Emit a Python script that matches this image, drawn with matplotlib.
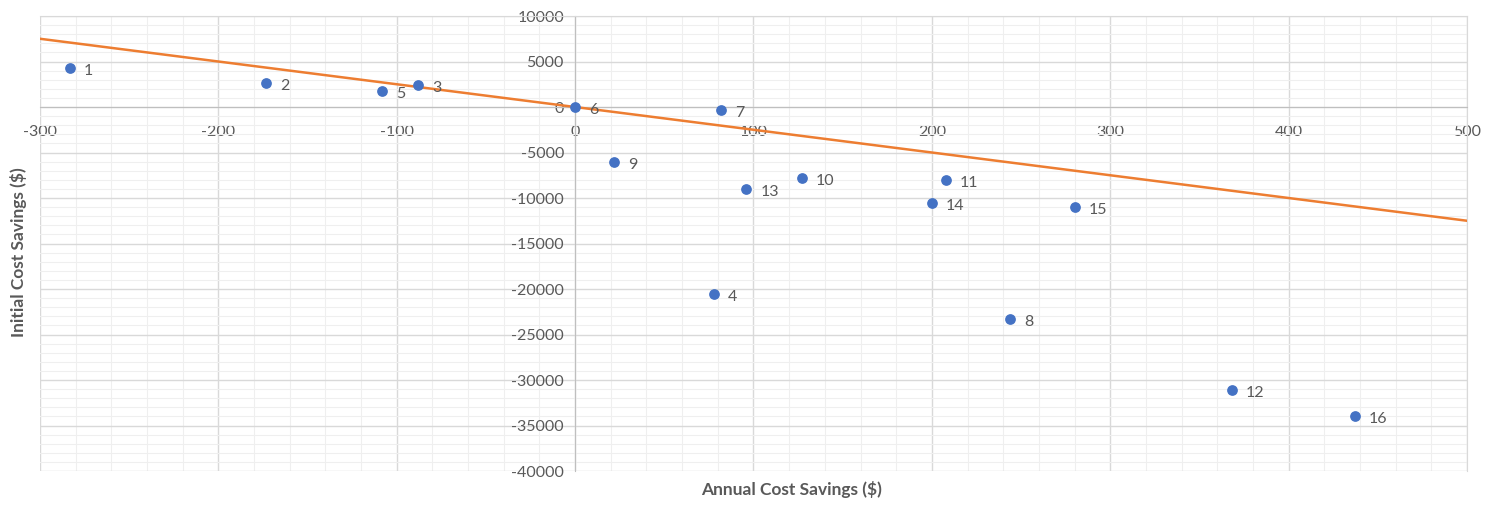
import matplotlib.pyplot as plt
from matplotlib.ticker import MultipleLocator

# data
ids = ["1", "2", "3", "4", "5", "6", "7", "8", "9", "10", "11", "12", "13", "14", "15", "16"]
annual = [-283, -173, -88, 78, -108, 0, 82, 244, 22, 127, 208, 368, 96, 200, 280, 437]
initial = [4300, 2600, 2400, -20600, 1800, 0, -300, -23300, -6000, -7800, -8000, -31100, -9000, -10600, -11000, -34000]
line_x = [-300, 500]
line_y = [7500, -12500]

plt.rcParams["font.family"] = ["Lato", "DejaVu Sans"]
plt.rcParams["axes.unicode_minus"] = False

txt = "#595959"
grid_major = "#d9d9d9"
grid_minor = "#efefef"

fig = plt.figure(figsize=(15.02, 5.05), dpi=100)
ax = fig.add_axes([0.0266, 0.0673, 0.9501, 0.9010])

ax.set_xlim(-300, 500)
ax.set_ylim(-40000, 10000)
ax.xaxis.set_major_locator(MultipleLocator(100))
ax.xaxis.set_minor_locator(MultipleLocator(20))
ax.yaxis.set_major_locator(MultipleLocator(5000))
ax.yaxis.set_minor_locator(MultipleLocator(1000))
ax.grid(which="major", color=grid_major, lw=1)
ax.grid(which="minor", color=grid_minor, lw=0.8)
ax.set_axisbelow(True)

# axes cross at the origin
ax.spines["left"].set_position(("data", 0))
ax.spines["bottom"].set_position(("data", 0))
for s in ["left", "bottom"]:
    ax.spines[s].set_color("#bfbfbf")
for s in ["top", "right"]:
    ax.spines[s].set_color(grid_major)
ax.tick_params(which="both", length=0)
ax.tick_params(axis="x", pad=13, labelsize=11.5, labelcolor=txt)
ax.tick_params(axis="y", pad=8, labelsize=11.5, labelcolor=txt)

ax.plot(line_x, line_y, color="#ed7d31", lw=1.8, zorder=3)
ax.scatter(annual, initial, s=45, color="#4472c4", zorder=4)
for name, x, y in zip(ids, annual, initial):
    ax.annotate(name, (x, y), xytext=(10, -5), textcoords="offset points",
                fontsize=11.5, color=txt, zorder=5)

fig.text(0.527, 0.03, "Annual Cost Savings ($)", ha="center", va="center",
         fontsize=12.5, fontweight="bold", color=txt)
fig.text(0.012, 0.5, "Initial Cost Savings ($)", ha="center", va="center",
         rotation=90, fontsize=12.5, fontweight="bold", color=txt)

fig.savefig("out.png", dpi=100)
